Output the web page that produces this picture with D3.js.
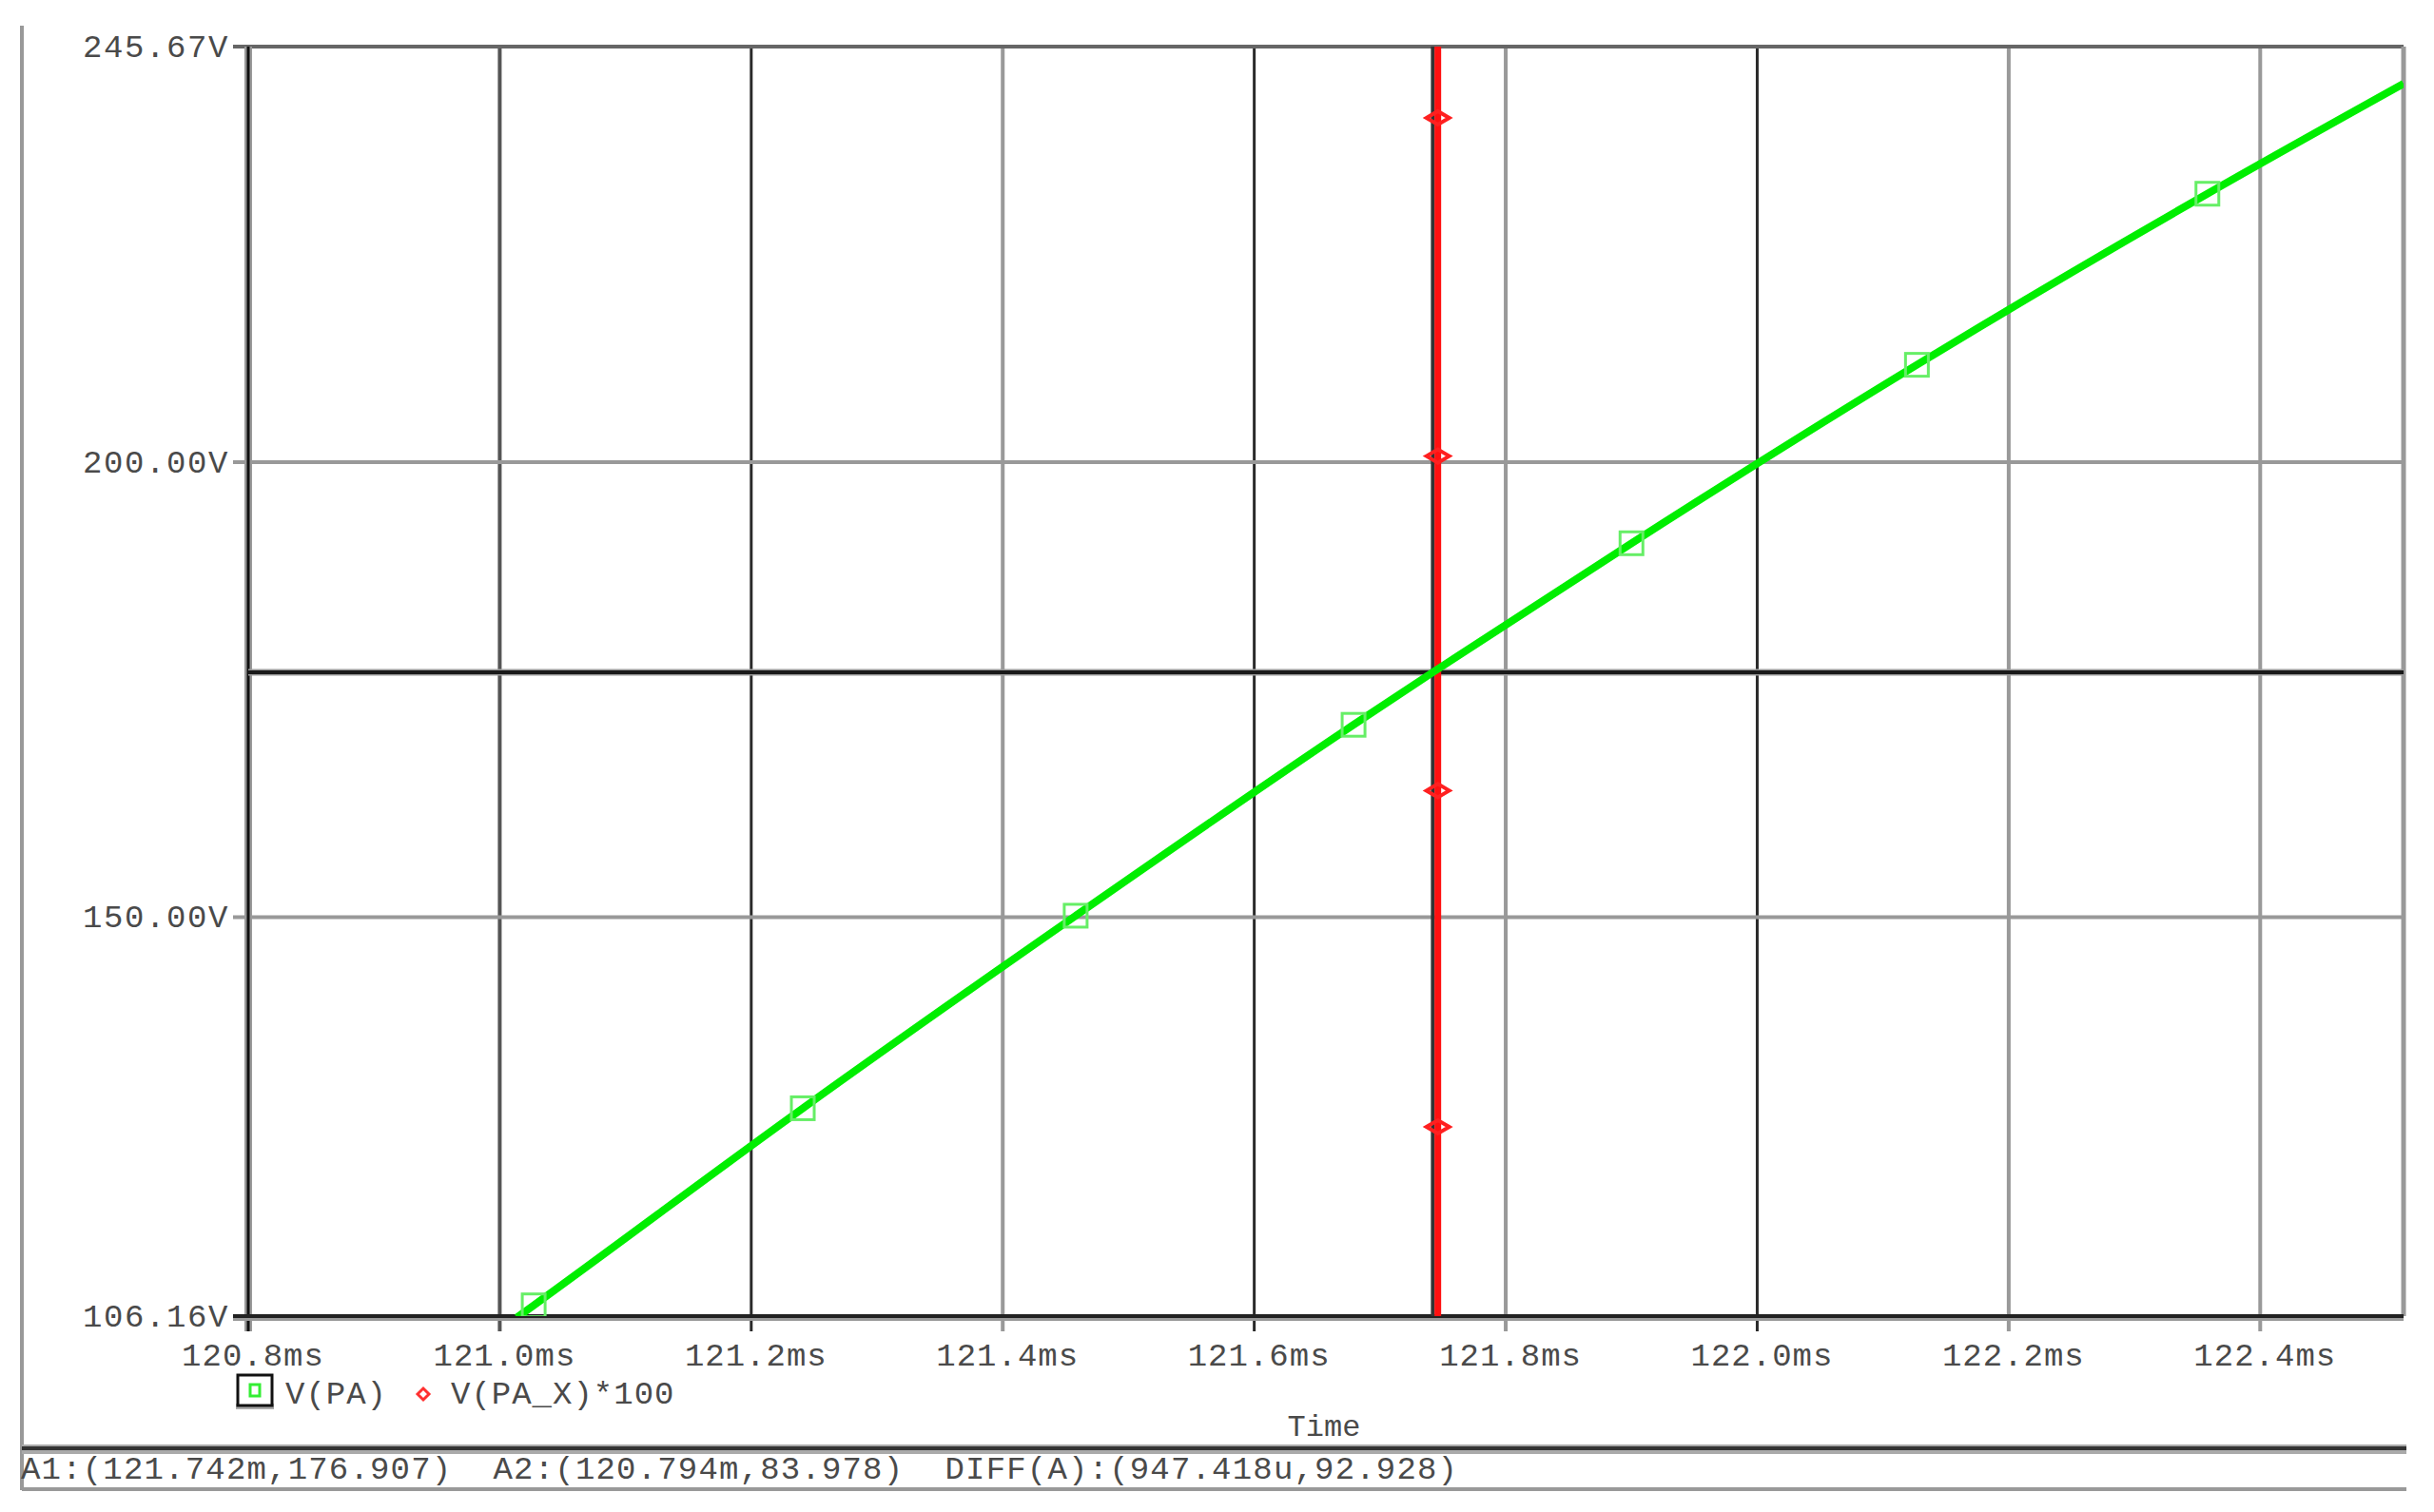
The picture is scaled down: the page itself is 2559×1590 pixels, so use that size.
<!doctype html>
<html lang="en">
<head>
  <meta charset="utf-8">
  <title>V(PA) cursor plot</title>
  <style>
    body { margin: 0; background: #fff; }
    svg { display: block; }
    text { font-family: "Liberation Mono", "DejaVu Sans Mono", monospace; fill: #4a4a4a; }
  </style>
</head>
<body>
  <div id="chart"></div>
  <script src="https://cdn.jsdelivr.net/npm/d3@7"></script>
  <script>
// time in ms, volts
var xTicks = [120.8, 121.0, 121.2, 121.4, 121.6, 121.8, 122.0, 122.2, 122.4];
var yTicks = [106.16, 150.00, 200.00, 245.67];
var xDomain = [120.8, 122.514];
var yDomain = [106.16, 245.67];

// V(PA) trace
var paTime = [121.0136, 121.027, 121.241, 121.458, 121.679, 121.742, 121.900, 122.127, 122.358, 122.514];
var paVolt = [106.0, 107.34, 129.0, 150.16, 171.14, 176.907, 191.09, 210.70, 229.5, 241.6];
var paMarkIdx = [1, 2, 3, 4, 6, 7, 8];

// V(PA_X)*100 trace: steps straight up at one instant
var paxTime = [121.746, 121.746];
var paxVolt = [90, 260];
var paxMarkVolt = [126.95, 163.91, 200.67, 237.84];

// cursor A1
var cursorA1 = [121.742, 176.907];
var legendNames = ["V(PA)", "V(PA_X)*100"];
var statusText = "A1:(121.742m,176.907)  A2:(120.794m,83.978)  DIFF(A):(947.418u,92.928)";

(function(){
  var width = 2559, height = 1590;
  var left = 261, right = 2527, top = 49, bottom = 1384;

  var svg = d3.select("#chart").append("svg")
      .attr("width", width).attr("height", height);

  var x = d3.scaleLinear().domain(xDomain).range([left, right]);
  var y = d3.scaleLinear().domain(yDomain).range([bottom, top]);

  svg.append("clipPath").attr("id", "plot").append("rect")
      .attr("x", left).attr("y", top).attr("width", right - left).attr("height", bottom - top);

  // outer frame + status bar
  svg.append("line").attr("x1", 23).attr("x2", 23).attr("y1", 27).attr("y2", 1567)
      .attr("stroke", "#999").attr("stroke-width", 4);
  svg.append("line").attr("x1", 23).attr("x2", 2530).attr("y1", 1524).attr("y2", 1524)
      .attr("stroke", "#aaa").attr("stroke-width", 10);
  svg.append("line").attr("x1", 23).attr("x2", 2530).attr("y1", 1523).attr("y2", 1523)
      .attr("stroke", "#333").attr("stroke-width", 4);
  svg.append("line").attr("x1", 23).attr("x2", 2530).attr("y1", 1566).attr("y2", 1566)
      .attr("stroke", "#999").attr("stroke-width", 4);

  // vertical grid (PSpice renders some darker than others)
  var darkX = [121.2, 121.6, 122.0];
  var gx = svg.append("g");
  gx.selectAll("line").data(xTicks.slice(1)).enter().append("line")
      .attr("x1", function(d){ return x(d); }).attr("x2", function(d){ return x(d); })
      .attr("y1", top).attr("y2", bottom + 16)
      .attr("stroke", function(d){ return darkX.indexOf(d) >= 0 ? "#2a2a2a" : (d === 121.0 ? "#555" : "#999"); })
      .attr("stroke-width", function(d){ return darkX.indexOf(d) >= 0 ? 3 : 4; });

  // horizontal grid
  var gy = svg.append("g");
  gy.selectAll("line").data([150, 200]).enter().append("line")
      .attr("x1", left - 16).attr("x2", right)
      .attr("y1", function(d){ return y(d); }).attr("y2", function(d){ return y(d); })
      .attr("stroke", "#999").attr("stroke-width", 4);

  // frame of plot
  svg.append("line").attr("x1", left - 16).attr("x2", right).attr("y1", top).attr("y2", top)
      .attr("stroke", "#666").attr("stroke-width", 4);
  svg.append("line").attr("x1", right).attr("x2", right).attr("y1", top).attr("y2", bottom)
      .attr("stroke", "#999").attr("stroke-width", 5);
  svg.append("line").attr("x1", left).attr("x2", left).attr("y1", top).attr("y2", bottom + 16)
      .attr("stroke", "#999").attr("stroke-width", 8);
  svg.append("line").attr("x1", left).attr("x2", left).attr("y1", top).attr("y2", bottom + 16)
      .attr("stroke", "#111").attr("stroke-width", 3);
  svg.append("line").attr("x1", left - 16).attr("x2", right).attr("y1", bottom + 2).attr("y2", bottom + 2)
      .attr("stroke", "#999").attr("stroke-width", 6);
  svg.append("line").attr("x1", left - 16).attr("x2", right).attr("y1", bottom).attr("y2", bottom)
      .attr("stroke", "#222").attr("stroke-width", 4);

  // y tick labels
  svg.append("g").selectAll("text").data(yTicks).enter().append("text")
      .attr("x", left - 20).attr("y", function(d){ return y(d) + 11; })
      .attr("text-anchor", "end").attr("font-size", 34).attr("letter-spacing", 1.6)
      .text(function(d){ return d.toFixed(2) + "V"; });

  // x tick labels
  svg.append("g").selectAll("text").data(xTicks).enter().append("text")
      .attr("x", function(d){ return x(d) + 5; }).attr("y", bottom + 52)
      .attr("text-anchor", "middle").attr("font-size", 34).attr("letter-spacing", 1)
      .text(function(d){ return d.toFixed(1) + "ms"; });

  var plot = svg.append("g").attr("clip-path", "url(#plot)");

  // cursor A1 crosshair
  plot.append("line").attr("x1", left).attr("x2", right)
      .attr("y1", y(cursorA1[1])).attr("y2", y(cursorA1[1]))
      .attr("stroke", "#999").attr("stroke-width", 7);
  plot.append("line").attr("x1", left).attr("x2", right)
      .attr("y1", y(cursorA1[1])).attr("y2", y(cursorA1[1]))
      .attr("stroke", "#1a1a1a").attr("stroke-width", 4);
  plot.append("line").attr("x1", x(cursorA1[0])).attr("x2", x(cursorA1[0]))
      .attr("y1", top).attr("y2", bottom)
      .attr("stroke", "#333").attr("stroke-width", 4);

  // V(PA_X)*100
  var pax = paxTime.map(function(t, i){ return [t, paxVolt[i]]; });
  plot.append("path").datum(pax)
      .attr("d", d3.line().x(function(d){ return x(d[0]); }).y(function(d){ return y(d[1]); }))
      .attr("stroke", "#ff1010").attr("stroke-width", 7).attr("fill", "none");
  var diamond = function(cx, cy){
    return "M" + (cx - 12) + "," + cy + "L" + cx + "," + (cy - 7) + "L" + (cx + 12) + "," + cy + "L" + cx + "," + (cy + 7) + "Z";
  };
  plot.append("g").selectAll("path").data(paxMarkVolt).enter().append("path")
      .attr("d", function(d){ return diamond(x(paxTime[0]), y(d)); })
      .attr("fill", "none").attr("stroke", "#ff2020").attr("stroke-width", 4);

  // V(PA)
  var pa = paTime.map(function(t, i){ return [t, paVolt[i]]; });
  plot.append("path").datum(pa)
      .attr("d", d3.line().curve(d3.curveMonotoneX)
        .x(function(d){ return x(d[0]); }).y(function(d){ return y(d[1]); }))
      .attr("stroke", "#00ee00").attr("stroke-width", 8).attr("fill", "none");
  plot.append("g").selectAll("rect").data(paMarkIdx.map(function(i){ return pa[i]; })).enter().append("rect")
      .attr("x", function(d){ return x(d[0]) - 12; }).attr("y", function(d){ return y(d[1]) - 12; })
      .attr("width", 24).attr("height", 24)
      .attr("fill", "none").attr("stroke", "#66ee66").attr("stroke-width", 3);

  // legend
  var lg = svg.append("g");
  lg.append("rect").attr("x", 248).attr("y", 1476).attr("width", 40).attr("height", 6).attr("fill", "#aaa");
  lg.append("rect").attr("x", 250).attr("y", 1446).attr("width", 36).attr("height", 32)
      .attr("fill", "#fff").attr("stroke", "#111").attr("stroke-width", 3);
  lg.append("rect").attr("x", 263).attr("y", 1456).attr("width", 10).attr("height", 12)
      .attr("fill", "none").attr("stroke", "#33ee33").attr("stroke-width", 3);
  lg.append("text").attr("x", 300).attr("y", 1476).attr("font-size", 34).attr("letter-spacing", 1).text(legendNames[0]);
  lg.append("path").attr("d", "M439,1466L445,1460L451,1466L445,1472Z")
      .attr("fill", "none").attr("stroke", "#ff3030").attr("stroke-width", 3);
  lg.append("text").attr("x", 474).attr("y", 1476).attr("font-size", 34).attr("letter-spacing", 1).text(legendNames[1]);

  svg.append("text").attr("x", 1392).attr("y", 1510).attr("text-anchor", "middle")
      .attr("font-size", 32).text("Time");

  svg.append("text").attr("x", 22).attr("y", 1555).attr("font-size", 34)
      .attr("fill", "#333").style("white-space", "pre")
      .attr("textLength", 1510).attr("lengthAdjust", "spacing")
      .text(statusText);
})();
  </script>
</body>
</html>
